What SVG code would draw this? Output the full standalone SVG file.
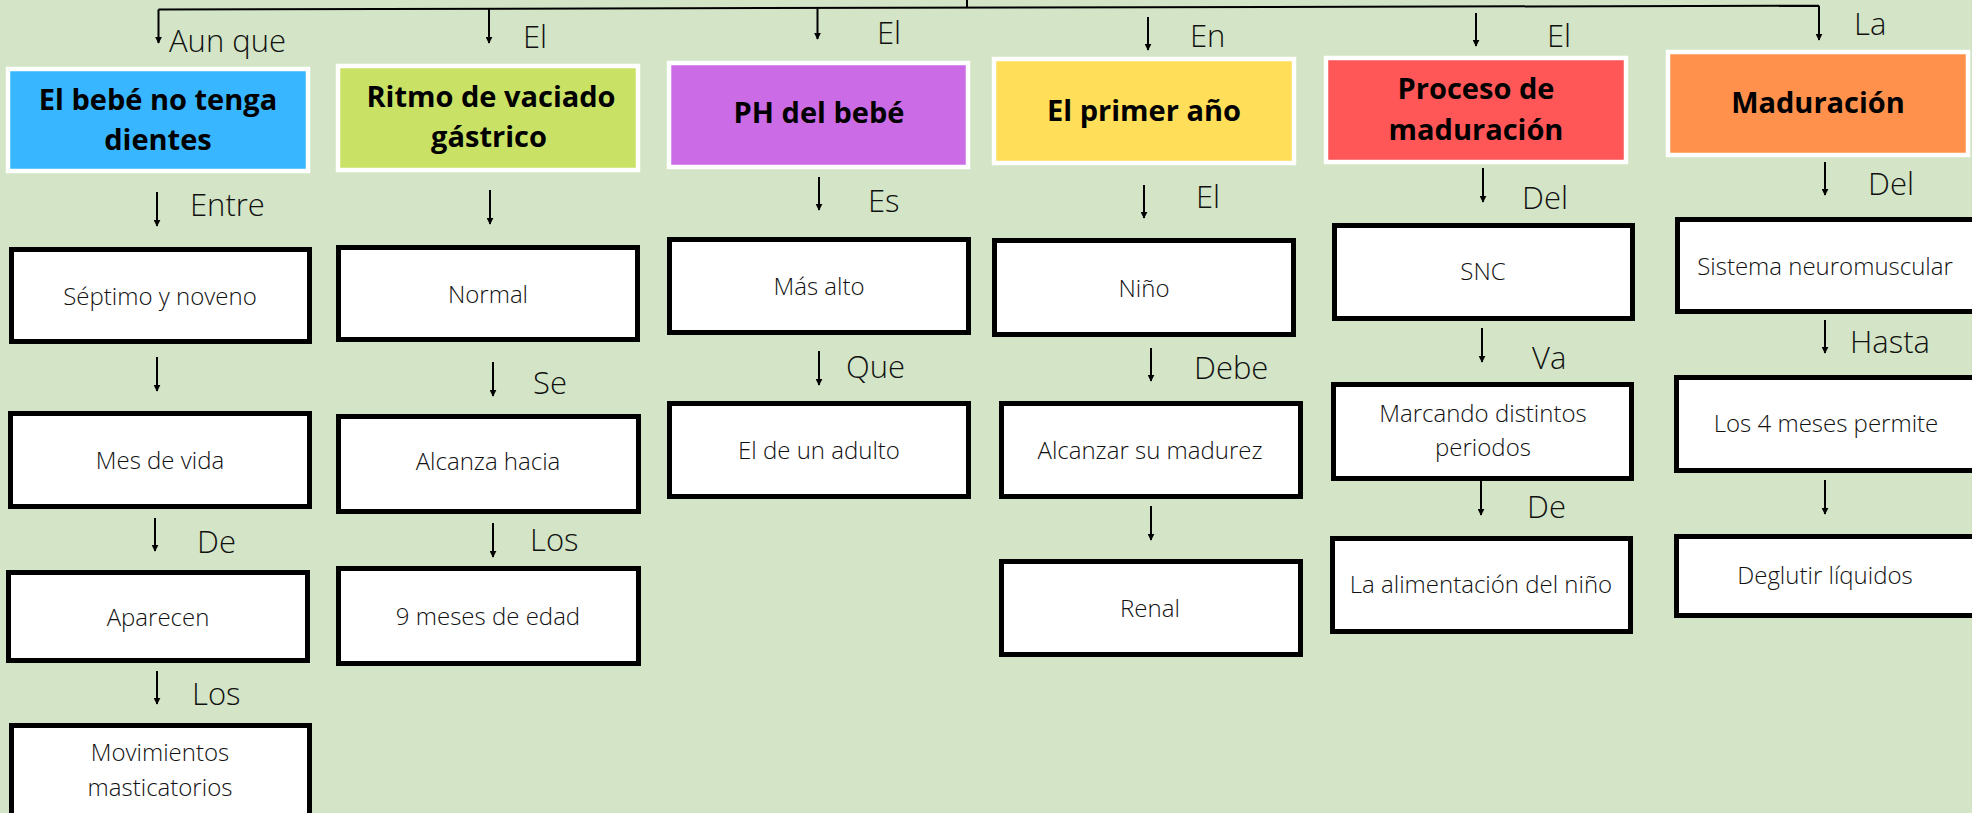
<svg xmlns="http://www.w3.org/2000/svg" width="1972" height="813" viewBox="0 0 1972 813">
<defs>
<marker id="ah" viewBox="0 0 10 10" refX="9" refY="5" markerWidth="7" markerHeight="7" markerUnits="userSpaceOnUse" orient="auto">
<path d="M0,0 L10,5 L0,10 z" fill="#000"/>
</marker>
</defs>
<style>
.hd{stroke:#fff;stroke-width:4.5}
.bx{fill:#fff;stroke:#000;stroke-width:5}
.ht{font-family:"Open Sans","Liberation Sans",sans-serif;font-weight:700;font-size:29px;fill:#000;text-anchor:middle}
.bt{font-family:"Open Sans","Liberation Sans",sans-serif;font-weight:300;font-size:24px;fill:#111;text-anchor:middle}
.lb{font-family:"Open Sans","Liberation Sans",sans-serif;font-weight:300;font-size:31px;fill:#111}
.cn{fill:none;stroke:#000;stroke-width:2}
.ar{stroke:#000;stroke-width:2;marker-end:url(#ah)}
</style>
<rect width="1972" height="813" fill="#d3e5c6"/>

<g id="connectors">
<path class="cn" d="M967,0 L967,7.5"/>
<path class="cn" d="M158.5,9.5 L1819,5.7"/>
<line class="ar" x1="158.5" y1="9.5" x2="158.5" y2="43"/>
<line class="ar" x1="489" y1="9" x2="489" y2="43"/>
<line class="ar" x1="817.5" y1="8" x2="817.5" y2="39"/>
<line class="ar" x1="1148" y1="17" x2="1148" y2="50"/>
<line class="ar" x1="1476" y1="13" x2="1476" y2="46"/>
<line class="ar" x1="1819" y1="5.7" x2="1819" y2="40"/>

<line class="ar" x1="157" y1="192" x2="157" y2="226"/>
<line class="ar" x1="157" y1="357" x2="157" y2="391"/>
<line class="ar" x1="155" y1="518" x2="155" y2="551"/>
<line class="ar" x1="157" y1="671" x2="157" y2="704"/>

<line class="ar" x1="490" y1="190" x2="490" y2="224"/>
<line class="ar" x1="493" y1="362" x2="493" y2="396"/>
<line class="ar" x1="493" y1="523" x2="493" y2="557"/>

<line class="ar" x1="819" y1="177" x2="819" y2="210"/>
<line class="ar" x1="819" y1="351" x2="819" y2="385"/>

<line class="ar" x1="1144" y1="185" x2="1144" y2="218"/>
<line class="ar" x1="1151" y1="348" x2="1151" y2="381"/>
<line class="ar" x1="1151" y1="506" x2="1151" y2="540"/>

<line class="ar" x1="1483" y1="168" x2="1483" y2="202"/>
<line class="ar" x1="1482" y1="328" x2="1482" y2="362"/>
<line class="ar" x1="1481" y1="481" x2="1481" y2="515"/>

<line class="ar" x1="1825" y1="162" x2="1825" y2="195"/>
<line class="ar" x1="1825" y1="320" x2="1825" y2="353"/>
<line class="ar" x1="1825" y1="480" x2="1825" y2="514"/>

<text class="lb" x="169" y="52">Aun que</text>
<text class="lb" x="523" y="48">El</text>
<text class="lb" x="877" y="44">El</text>
<text class="lb" x="1190" y="47">En</text>
<text class="lb" x="1547" y="47">El</text>
<text class="lb" x="1854" y="35">La</text>
<text class="lb" x="190" y="216">Entre</text>
<text class="lb" x="197" y="553">De</text>
<text class="lb" x="192" y="705">Los</text>
<text class="lb" x="533" y="394">Se</text>
<text class="lb" x="530" y="551">Los</text>
<text class="lb" x="868" y="212">Es</text>
<text class="lb" x="846" y="378">Que</text>
<text class="lb" x="1196" y="208">El</text>
<text class="lb" x="1194" y="379">Debe</text>
<text class="lb" x="1522" y="209">Del</text>
<text class="lb" x="1532" y="369">Va</text>
<text class="lb" x="1527" y="518">De</text>
<text class="lb" x="1868" y="195">Del</text>
<text class="lb" x="1850" y="353">Hasta</text>
</g>

<g id="n-bebe"><rect class="hd" x="8" y="69" width="300" height="102" fill="#38b6ff"/><text class="ht" x="158" y="110">El bebé no tenga</text><text class="ht" x="158" y="150">dientes</text></g>
<g id="n-septimo"><rect class="bx" x="11.5" y="249.5" width="298" height="92"/><text class="bt" x="160" y="305">Séptimo y noveno</text></g>
<g id="n-mes"><rect class="bx" x="10.5" y="413.5" width="299" height="93"/><text class="bt" x="160" y="469">Mes de vida</text></g>
<g id="n-aparecen"><rect class="bx" x="8.5" y="572.5" width="299" height="88"/><text class="bt" x="158" y="626">Aparecen</text></g>
<g id="n-movimientos"><rect class="bx" x="11.5" y="725.5" width="298" height="100"/><text class="bt" x="160" y="761">Movimientos</text><text class="bt" x="160" y="796">masticatorios</text></g>

<g id="n-ritmo"><rect class="hd" x="338" y="66" width="300" height="104" fill="#c9e265"/><text class="ht" x="491" y="107">Ritmo de vaciado</text><text class="ht" x="489" y="147">gástrico</text></g>
<g id="n-normal"><rect class="bx" x="338.5" y="247.5" width="299" height="92"/><text class="bt" x="488" y="303">Normal</text></g>
<g id="n-alcanza"><rect class="bx" x="338.5" y="416.5" width="300" height="95"/><text class="bt" x="488" y="470">Alcanza hacia</text></g>
<g id="n-9meses"><rect class="bx" x="338.5" y="568.5" width="300" height="95"/><text class="bt" x="488" y="625">9 meses de edad</text></g>

<g id="n-ph"><rect class="hd" x="669" y="63" width="299" height="104" fill="#cb6ce6"/><text class="ht" x="819" y="123">PH del bebé</text></g>
<g id="n-masalto"><rect class="bx" x="669.5" y="239.5" width="299" height="93"/><text class="bt" x="819" y="295">Más alto</text></g>
<g id="n-adulto"><rect class="bx" x="669.5" y="403.5" width="299" height="93"/><text class="bt" x="819" y="459">El de un adulto</text></g>

<g id="n-primer"><rect class="hd" x="994" y="59" width="300" height="104" fill="#ffde59"/><text class="ht" x="1144" y="121">El primer año</text></g>
<g id="n-nino"><rect class="bx" x="994.5" y="240.5" width="299" height="94"/><text class="bt" x="1144" y="297">Niño</text></g>
<g id="n-alcanzar"><rect class="bx" x="1001.5" y="403.5" width="299" height="93"/><text class="bt" x="1150" y="459">Alcanzar su madurez</text></g>
<g id="n-renal"><rect class="bx" x="1001.5" y="561.5" width="299" height="93"/><text class="bt" x="1150" y="617">Renal</text></g>

<g id="n-proceso"><rect class="hd" x="1326" y="58" width="300" height="104" fill="#ff5757"/><text class="ht" x="1476" y="99">Proceso de</text><text class="ht" x="1476" y="140">maduración</text></g>
<g id="n-snc"><rect class="bx" x="1334.5" y="225.5" width="298" height="93"/><text class="bt" x="1483" y="280">SNC</text></g>
<g id="n-marcando"><rect class="bx" x="1333.5" y="384.5" width="298" height="94"/><text class="bt" x="1483" y="422">Marcando distintos</text><text class="bt" x="1483" y="456">periodos</text></g>
<g id="n-alimentacion"><rect class="bx" x="1332.5" y="538.5" width="298" height="93"/><text class="bt" x="1481" y="593">La alimentación del niño</text></g>

<g id="n-maduracion"><rect class="hd" x="1668" y="52" width="300" height="103" fill="#ff914d"/><text class="ht" x="1818" y="113">Maduración</text></g>
<g id="n-sistema"><rect class="bx" x="1677.5" y="219.5" width="310" height="92"/><text class="bt" x="1825" y="275">Sistema neuromuscular</text></g>
<g id="n-4meses"><rect class="bx" x="1676.5" y="377.5" width="310" height="93"/><text class="bt" x="1826" y="432">Los 4 meses permite</text></g>
<g id="n-deglutir"><rect class="bx" x="1676.5" y="536.5" width="310" height="79"/><text class="bt" x="1825" y="584">Deglutir líquidos</text></g>
</svg>
